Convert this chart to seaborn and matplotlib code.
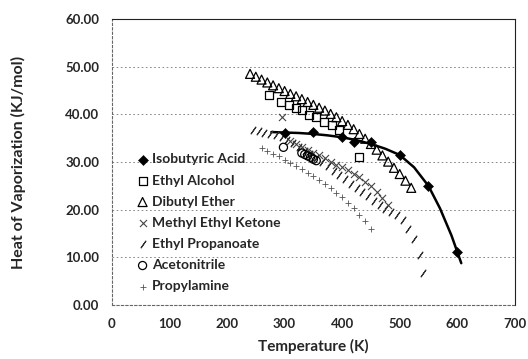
import matplotlib
matplotlib.use("Agg")
import matplotlib.pyplot as plt
import seaborn as sns
import pandas as pd

# ---- data ----
iso_T = [300, 350, 400, 420, 450, 500, 550, 600]
iso_H = [36.0, 36.3, 35.2, 34.2, 34.2, 31.4, 24.9, 11.1]
iso_line_T = [277, 300, 325, 350, 375, 400, 425, 450, 475, 500, 525, 550, 570, 590, 607]
iso_line_H = [36.3, 36.2, 36.1, 35.9, 35.6, 35.2, 34.6, 33.8, 32.8, 31.5, 28.9, 25.0, 20.3, 14.6, 8.8]

eth_T = [273, 294, 308, 320, 330, 343, 355, 368, 382, 394, 429]
eth_H = [44.0, 42.6, 41.9, 41.3, 40.9, 39.8, 39.4, 38.4, 37.7, 36.7, 31.0]

dbe_T = [240, 250, 260, 270, 280, 290, 300, 310, 320, 330, 340, 350, 360, 370, 380,
         390, 400, 410, 420, 430, 440, 450, 460, 470, 480, 490, 500, 510, 520]
dbe_H = [48.5, 47.9, 47.3, 46.7, 46.1, 45.5, 44.9, 44.3, 43.8, 43.2, 42.6, 42.0, 41.4, 40.8, 40.1,
         39.4, 38.6, 37.8, 36.9, 35.9, 34.9, 33.8, 32.6, 31.4, 30.1, 28.8, 27.5, 26.1, 24.6]

mek_T = [296, 310, 320, 330, 340, 350, 360, 370, 380, 390, 400, 410, 420, 430, 440, 450, 460, 470, 480]
mek_H = [39.4, 34.4, 33.8, 33.2, 32.6, 32.0, 31.4, 30.8, 30.1, 29.4, 28.9, 28.3, 27.6, 26.8, 25.9,
         24.9, 23.7, 22.4, 21.0]

ep_T = [245, 255, 265, 275, 285, 295, 305, 315, 325, 335, 345, 355, 365, 375, 385, 395, 405,
        415, 425, 435, 445, 455, 465, 475, 485, 495, 505, 515, 525, 535, 541]
ep_H = [36.7, 36.5, 36.2, 35.9, 35.6, 35.2, 34.6, 33.9, 33.2, 32.4, 31.6, 30.8, 30.0, 29.1, 28.2,
        27.3, 26.4, 25.5, 24.6, 23.7, 22.8, 21.9, 21.0, 20.2, 19.6, 19.0, 17.8, 16.0, 13.8, 10.5, 6.7]

acn_T = [298, 330, 335, 340, 345, 350, 355]
acn_H = [33.1, 31.9, 31.6, 31.3, 31.0, 30.6, 30.3]

pra_T = [260, 270, 280, 290, 300, 310, 320, 330, 340, 350, 360, 370, 380, 390, 400, 410, 420, 430, 440, 450]
pra_H = [33.0, 32.4, 31.8, 31.2, 30.5, 29.9, 29.2, 28.5, 27.8, 27.0, 26.2, 25.4, 24.5, 23.6, 22.6,
         21.5, 20.3, 19.0, 17.6, 16.0]

x_ticks = [0, 100, 200, 300, 400, 500, 600, 700]
y_ticks = [0, 10, 20, 30, 40, 50, 60]

sns.set_theme(style="white")
plt.rcParams['font.family'] = ['Lato', 'DejaVu Sans']

fig = plt.figure(figsize=(5.28, 3.59), dpi=100)
ax = fig.add_axes([0.212, 0.150, 0.763, 0.797])

# Isobutyric acid: trendline + filled diamonds
sns.lineplot(x=iso_line_T, y=iso_line_H, ax=ax, color="black", linewidth=1.8, sort=False,
             legend=False)
sns.scatterplot(x=iso_T, y=iso_H, ax=ax, marker="D", s=26, color="black", edgecolor="black",
                label="Isobutyric Acid", zorder=5)
sns.scatterplot(x=eth_T, y=eth_H, ax=ax, marker="s", s=34, facecolor="none", edgecolor="black",
                linewidth=0.9, label="Ethyl Alcohol", zorder=4)
sns.scatterplot(x=dbe_T, y=dbe_H, ax=ax, marker="^", s=42, facecolor="none", edgecolor="black",
                linewidth=0.9, label="Dibutyl Ether", zorder=4)
sns.scatterplot(x=mek_T, y=mek_H, ax=ax, marker="x", s=26, color="#444444",
                linewidth=0.8, label="Methyl Ethyl Ketone", zorder=3)
sns.scatterplot(x=ep_T, y=ep_H, ax=ax, marker=(2, 2, -35), s=34, color="#333333",
                linewidth=0.8, label="Ethyl Propanoate", zorder=3)
sns.scatterplot(x=acn_T, y=acn_H, ax=ax, marker="o", s=34, facecolor="none", edgecolor="black",
                linewidth=0.9, label="Acetonitrile", zorder=4)
sns.scatterplot(x=pra_T, y=pra_H, ax=ax, marker="+", s=14, color="#555555",
                linewidth=0.6, label="Propylamine", zorder=3)

ax.set_xlim(0, 700)
ax.set_ylim(0, 60)
ax.set_xticks(x_ticks)
ax.set_yticks(y_ticks)
ax.set_xticklabels([str(t) for t in x_ticks], fontweight="bold", fontsize=9.5)
ax.set_yticklabels([f"{t:.2f}" for t in y_ticks], fontweight="bold", fontsize=9.5)
ax.tick_params(axis="both", length=0, pad=9)
ax.yaxis.grid(True, color="#777777", linestyle=(0, (2, 3)), linewidth=0.6)
ax.xaxis.grid(False)
for side, sp in ax.spines.items():
    sp.set_visible(True)
    sp.set_color("#222222")
    sp.set_linewidth(0.8)
ax.spines["left"].set_linestyle((0, (2, 2)))
ax.spines["bottom"].set_linestyle((0, (2, 2)))
ax.spines["left"].set_color("#666666")
ax.spines["bottom"].set_color("#666666")

ax.set_xlabel("Temperature (K)", fontweight="bold", fontsize=11, labelpad=7)
ax.set_ylabel("Heat of Vaporization (KJ/mol)", fontweight="bold", fontsize=11.5, labelpad=28)

leg = ax.legend(loc="upper left", bbox_to_anchor=(0.045, 0.55), frameon=False,
                prop={"weight": "bold", "size": 10}, labelspacing=0.66,
                handletextpad=0.2, handlelength=1.0, borderaxespad=0)

fig.savefig("out.png", dpi=100)
